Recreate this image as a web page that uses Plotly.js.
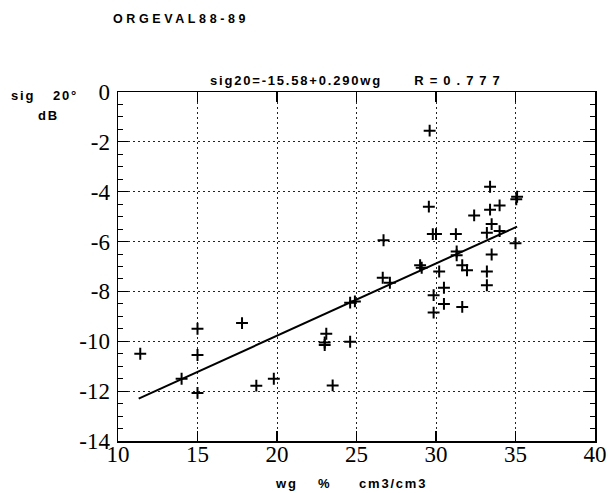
<!DOCTYPE html>
<html>
<head>
<meta charset="utf-8">
<script src="https://cdn.plot.ly/plotly-3.0.1.min.js"></script>
<style>
  html, body { margin: 0; padding: 0; background: #fff; }
  #chart { width: 608px; height: 493px; }
  .annotation-text { letter-spacing: 1.8px; }
  .annotation[data-index="1"] .annotation-text { letter-spacing: 6px; }
  .gtitle { letter-spacing: 3.6px; }
  .xtick text, .ytick text { font-family: "Liberation Serif", "Times New Roman", "DejaVu Serif", serif !important; }
</style>
</head>
<body>
<div id="chart"></div>
<script>
// Measured points (wg %, sig20 dB)
const wg = [11.4, 14.0, 15.0, 15.0, 15.0, 17.8, 18.7, 19.8, 23.0, 23.0, 23.1, 23.5,
  24.6, 24.9, 24.6, 26.7, 26.65, 27.1, 29.0, 29.1, 29.55, 29.6, 29.8, 30.0,
  29.85, 29.85, 30.2, 30.5, 30.5, 31.25, 31.3, 31.3, 31.65, 31.95, 31.65, 32.4,
  33.2, 33.2, 33.2, 33.4, 33.4, 33.5, 33.5, 34.0, 34.0, 35.0, 35.05, 35.1];
const sig20 = [-10.5, -11.5, -9.5, -10.55, -12.07, -9.27, -11.78, -11.5, -10.05, -10.15, -9.7, -11.77,
  -8.45, -8.4, -10.02, -5.95, -7.45, -7.65, -6.95, -7.05, -4.6, -1.55, -5.7, -5.7,
  -8.15, -8.85, -7.2, -7.85, -8.5, -5.7, -6.4, -6.55, -6.95, -7.15, -8.62, -4.95,
  -5.65, -7.2, -7.75, -3.8, -4.72, -5.3, -6.52, -4.55, -5.58, -6.07, -4.3, -4.2];

// Regression line endpoints as drawn
const fitX = [11.3, 35.1];
const fitY = [-12.3, -5.4];

// Tick labels
const xTickVals = [10, 15, 20, 25, 30, 35, 40];
const xTickText = ["10", "15", "20", "25", "30", "35", "40"];
const yTickVals = [0, -2, -4, -6, -8, -10, -12, -14];
const yTickText = ["0", "-2", "-4", "-6", "-8", "-10", "-12", "-14"];

const titleText = "ORGEVAL88-89";
const fitLabel = "sig20=-15.58+0.290wg";
const rLabel = "R=0.777";

// pixel -> paper helpers (layout only)
const M = {l: 118, r: 13, t: 92, b: 52};
const W = 608, H = 493;
const pw = W - M.l - M.r, ph = H - M.t - M.b;
const px = v => (v - M.l) / pw;
const py = v => (H - M.b - v) / ph;

const labFont = {family: "Liberation Sans", size: 13, color: "#000"};
function ann(text, x, y) {
  return {text: "<b>" + text + "</b>", xref: "paper", yref: "paper", x: px(x), y: py(y),
    xanchor: "center", yanchor: "middle", showarrow: false, font: labFont};
}

const traces = [
  {x: fitX, y: fitY, type: "scatter", mode: "lines",
   line: {color: "#000", width: 2}, hoverinfo: "skip"},
  {x: wg, y: sig20, type: "scatter", mode: "markers",
   marker: {symbol: "cross-thin-open", size: 8.5, color: "#000", line: {color: "#000", width: 2}}}
];

const axisCommon = {
  showline: true, linecolor: "#000", linewidth: 1.5, mirror: "ticks",
  ticks: "inside", ticklen: 10, tickwidth: 1.2, tickcolor: "#000",
  showgrid: true, gridcolor: "#222", gridwidth: 1, griddash: "1.5px,3.5px",
  zeroline: false,
  tickfont: {family: "DejaVu Serif, serif", size: 23, color: "#000"}
};

const layout = {
  width: W, height: H,
  margin: M,
  font: {family: "Liberation Serif", color: "#000"},
  paper_bgcolor: "#fff", plot_bgcolor: "#fff",
  showlegend: false,
  title: {text: "<b>" + titleText + "</b>", xref: "container", yref: "container",
    x: 113 / W, xanchor: "left", y: 1 - 19 / H, yanchor: "middle",
    font: {family: "Liberation Sans", size: 12.5, color: "#000"}},
  xaxis: Object.assign({}, axisCommon, {range: [10, 40], tickmode: "array",
    tickvals: xTickVals, ticktext: xTickText, ticklabelstandoff: -8}),
  yaxis: Object.assign({}, axisCommon, {range: [-14, 0], tickmode: "array",
    tickvals: yTickVals, ticktext: yTickText,
    minor: {dtick: 0.5, tick0: 0, ticks: "inside", ticklen: 5, tickcolor: "#000", tickwidth: 1, showgrid: false},
    ticklabelstandoff: 2}),
  annotations: [
    ann(fitLabel, 296, 80),
    ann(rLabel, 460, 80),
    ann("sig", 23, 96),
    ann("20°", 65, 96),
    ann("dB", 48, 115),
    ann("wg", 286, 483),
    ann("%", 324, 483),
    ann("cm3/cm3", 393, 483)
  ]
};

Plotly.newPlot("chart", traces, layout, {staticPlot: true, displayModeBar: false});
</script>
</body>
</html>
